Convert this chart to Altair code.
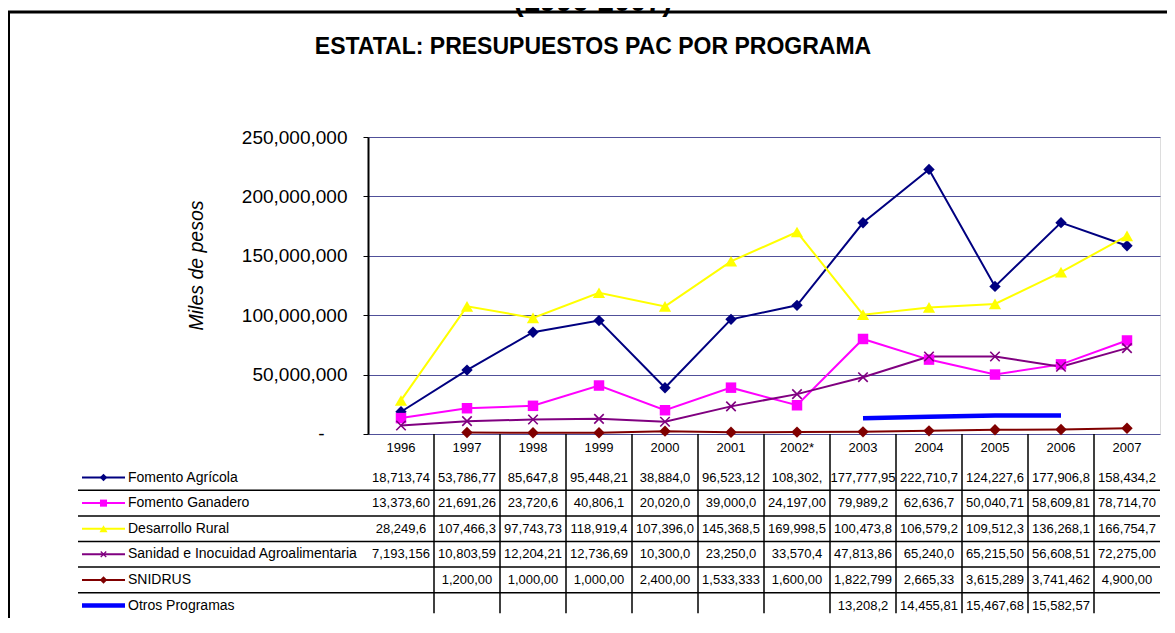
import altair as alt
import pandas as pd

# ---------------- data ----------------
years = ["1996", "1997", "1998", "1999", "2000", "2001", "2002*", "2003",
         "2004", "2005", "2006", "2007"]
series = ["Fomento Agrícola", "Fomento Ganadero", "Desarrollo Rural",
          "Sanidad e Inocuidad Agroalimentaria", "SNIDRUS", "Otros Programas"]
colors = ["#000080", "#FF00FF", "#FFFF00", "#800080", "#800000", "#0000FF"]

fomento_agricola = [18713740, 53786770, 85647800, 95448210, 38884000, 96523120,
                    108302000, 177777950, 222710700, 124227600, 177906800, 158434200]
fomento_ganadero = [13373600, 21691260, 23720600, 40806100, 20020000, 39000000,
                    24197000, 79989200, 62636700, 50040710, 58609810, 78714700]
desarrollo_rural = [28249600, 107466300, 97743730, 118919400, 107396000, 145368500,
                    169998500, 100473800, 106579200, 109512300, 136268100, 166754700]
sanidad = [7193156, 10803590, 12204210, 12736690, 10300000, 23250000,
           33570400, 47813860, 65240000, 65215500, 56608510, 72275000]
snidrus = [None, 1200000, 1000000, 1000000, 2400000, 1533333,
           1600000, 1822799, 2665330, 3615289, 3741462, 4900000]
otros = [None, None, None, None, None, None,
         None, 13208200, 14455810, 15467680, 15582570, None]

# text shown in the data table (as cut off by the cells)
txt_agricola = ["18,713,74", "53,786,77", "85,647,8", "95,448,21", "38,884,0", "96,523,12",
                "108,302,", "177,777,95", "222,710,7", "124,227,6", "177,906,8", "158,434,2"]
txt_ganadero = ["13,373,60", "21,691,26", "23,720,6", "40,806,1", "20,020,0", "39,000,0",
                "24,197,00", "79,989,2", "62,636,7", "50,040,71", "58,609,81", "78,714,70"]
txt_rural = ["28,249,6", "107,466,3", "97,743,73", "118,919,4", "107,396,0", "145,368,5",
             "169,998,5", "100,473,8", "106,579,2", "109,512,3", "136,268,1", "166,754,7"]
txt_sanidad = ["7,193,156", "10,803,59", "12,204,21", "12,736,69", "10,300,0", "23,250,0",
               "33,570,4", "47,813,86", "65,240,0", "65,215,50", "56,608,51", "72,275,00"]
txt_snidrus = ["", "1,200,00", "1,000,00", "1,000,00", "2,400,00", "1,533,333",
               "1,600,00", "1,822,799", "2,665,33", "3,615,289", "3,741,462", "4,900,00"]
txt_otros = ["", "", "", "", "", "", "", "13,208,2", "14,455,81", "15,467,68", "15,582,57", ""]

y_ticks = [0, 50000000, 100000000, 150000000, 200000000, 250000000]
zero_label = "-"

values = [fomento_agricola, fomento_ganadero, desarrollo_rural, sanidad, snidrus, otros]
texts = [txt_agricola, txt_ganadero, txt_rural, txt_sanidad, txt_snidrus, txt_otros]

# ---------------- layout / style constants ----------------
FONT = "Liberation Sans"
COL_PX = 66.0
PLOT_W, PLOT_H = int(12 * COL_PX), 297
ROW_PX = 25.6

KEY_X0 = -286 / COL_PX
KEY_X1 = -243 / COL_PX
KEY_XM = -264.5 / COL_PX
KEY_XT = -240 / COL_PX
ROW_LEFT = -290 / COL_PX
ZERO_X = -46.5 / COL_PX

CROSS = "M-1,-1L1,1M-1,1L1,-1"
# series -> (shape, size in plot, size in key)
markers = {
    "Fomento Agrícola": ("diamond", 130, 55),
    "Fomento Ganadero": ("square", 110, 50),
    "Desarrollo Rural": ("triangle-up", 150, 65),
    "SNIDRUS": ("diamond", 130, 55),
}

# ---------------- tables ----------------
rows = []
for s, vals in zip(series, values):
    for i, v in enumerate(vals):
        if v is not None:
            rows.append({"series": s, "year": years[i], "x": i + 0.5, "value": v})
df = pd.DataFrame(rows)

cells = []
for k, (s, tx) in enumerate(zip(series, texts)):
    for i, t in enumerate(tx):
        if t:
            cells.append({"series": s, "x": i + 0.5, "r": k + 1.7, "txt": t})
df_cells = pd.DataFrame(cells)

df_head = pd.DataFrame({"x": [i + 0.5 for i in range(len(years))],
                        "r": [0.55] * len(years), "txt": years})
df_keys = pd.DataFrame({"series": series, "r": [k + 1.7 for k in range(len(series))],
                        "x1": KEY_X0, "x2": KEY_X1, "xm": KEY_XM, "xt": KEY_XT})
df_hsep = pd.DataFrame({"r": [k + 0.2 for k in range(2, len(series) + 1)],
                        "x1": ROW_LEFT, "x2": 12.0})
df_vsep = pd.DataFrame({"x": list(range(1, len(years))), "r1": 0.0, "r2": 7.0})
df_zero = pd.DataFrame({"x": [ZERO_X], "value": [y_ticks[0]], "txt": [zero_label]})

xscale = alt.Scale(domain=[0, 12], nice=False, zero=False)
tscale = alt.Scale(domain=[0, 7], range=[PLOT_H, PLOT_H + 7 * ROW_PX], nice=False, zero=False)
yscale = alt.Scale(domain=[0, 250000000], nice=False, zero=True)
cscale = alt.Scale(domain=series, range=colors)

yaxis = alt.Axis(
    orient="left", values=y_ticks,
    labelExpr="datum.value == 0 ? '' : format(datum.value, ',')",
    labelFont=FONT, labelFontSize=19, labelColor="black", labelPadding=16,
    tickSize=5, tickColor="black", tickWidth=1,
    domainColor="black", domainWidth=2,
    grid=True, gridColor="#505099", gridWidth=1,
    title="Miles de pesos", titleFont=FONT, titleFontSize=19.5, titleFontStyle="italic",
    titleFontWeight="normal", titleColor="black", titleX=-172, titleY=128,
    titleAngle=270, titleAlign="center", titleBaseline="middle",
)
xaxis = alt.Axis(orient="bottom", labels=False, ticks=False, grid=False, title=None,
                 domain=True, domainColor="black", domainWidth=2)

layers = []

# ---------------- main plot ----------------
layers.append(alt.Chart(df[df["series"] != series[5]]).mark_line(strokeWidth=2).encode(
    x=alt.X("x:Q", scale=xscale, axis=xaxis),
    y=alt.Y("value:Q", scale=yscale, axis=yaxis),
    color=alt.Color("series:N", scale=cscale, legend=None),
))
layers.append(alt.Chart(df[df["series"] == series[5]]).mark_line(
    strokeWidth=4.5, color=colors[5]).encode(
    x=alt.X("x:Q", scale=xscale, axis=None),
    y=alt.Y("value:Q", scale=yscale, axis=None),
))
for s, (shp, sz, _) in markers.items():
    layers.append(alt.Chart(df[df["series"] == s]).mark_point(
        shape=shp, size=sz, filled=True, opacity=1, color=colors[series.index(s)]).encode(
        x=alt.X("x:Q", scale=xscale, axis=None),
        y=alt.Y("value:Q", scale=yscale, axis=None),
    ))
layers.append(alt.Chart(df[df["series"] == series[3]]).mark_point(
    shape=CROSS, filled=False, size=90, strokeWidth=1.6, opacity=1, color=colors[3]).encode(
    x=alt.X("x:Q", scale=xscale, axis=None),
    y=alt.Y("value:Q", scale=yscale, axis=None),
))
# accounting-style zero label of the value axis
layers.append(alt.Chart(df_zero).mark_text(font=FONT, fontSize=19, color="black",
                                           align="center", baseline="middle").encode(
    x=alt.X("x:Q", scale=xscale, axis=None),
    y=alt.Y("value:Q", scale=yscale, axis=None), text="txt:N"))

# ---------------- data table ----------------
tx = dict(font=FONT, fontSize=13, color="black", align="center", baseline="middle")
layers.append(alt.Chart(df_head).mark_text(**tx).encode(
    x=alt.X("x:Q", scale=xscale, axis=None),
    y=alt.Y("r:Q", scale=tscale, axis=None), text="txt:N"))
layers.append(alt.Chart(df_cells).mark_text(**tx).encode(
    x=alt.X("x:Q", scale=xscale, axis=None),
    y=alt.Y("r:Q", scale=tscale, axis=None), text="txt:N"))
layers.append(alt.Chart(df_hsep).mark_rule(color="black", strokeWidth=1.5).encode(
    x=alt.X("x1:Q", scale=xscale, axis=None), x2="x2:Q",
    y=alt.Y("r:Q", scale=tscale, axis=None)))
layers.append(alt.Chart(df_vsep).mark_rule(color="black", strokeWidth=1.5).encode(
    x=alt.X("x:Q", scale=xscale, axis=None),
    y=alt.Y("r1:Q", scale=tscale, axis=None), y2="r2:Q"))
layers.append(alt.Chart(df_keys[df_keys["series"] != series[5]]).mark_rule(strokeWidth=2).encode(
    x=alt.X("x1:Q", scale=xscale, axis=None), x2="x2:Q",
    y=alt.Y("r:Q", scale=tscale, axis=None),
    color=alt.Color("series:N", scale=cscale, legend=None)))
layers.append(alt.Chart(df_keys[df_keys["series"] == series[5]]).mark_rule(
    strokeWidth=4.5, color=colors[5]).encode(
    x=alt.X("x1:Q", scale=xscale, axis=None), x2="x2:Q",
    y=alt.Y("r:Q", scale=tscale, axis=None)))
for s, (shp, _, ksz) in markers.items():
    layers.append(alt.Chart(df_keys[df_keys["series"] == s]).mark_point(
        shape=shp, size=ksz, filled=True, opacity=1, color=colors[series.index(s)]).encode(
        x=alt.X("xm:Q", scale=xscale, axis=None),
        y=alt.Y("r:Q", scale=tscale, axis=None)))
layers.append(alt.Chart(df_keys[df_keys["series"] == series[3]]).mark_point(
    shape=CROSS, filled=False, size=30, strokeWidth=1.3, opacity=1, color=colors[3]).encode(
    x=alt.X("xm:Q", scale=xscale, axis=None),
    y=alt.Y("r:Q", scale=tscale, axis=None)))
layers.append(alt.Chart(df_keys).mark_text(font=FONT, fontSize=14, color="black",
                                           align="left", baseline="middle").encode(
    x=alt.X("xt:Q", scale=xscale, axis=None),
    y=alt.Y("r:Q", scale=tscale, axis=None), text="series:N"))

# ---------------- outer frame ----------------
frame_df = pd.DataFrame({"k": [0]})
layers.append(alt.Chart(frame_df).mark_rule(color="black", strokeWidth=3).encode(
    x=alt.value(-364), x2=alt.value(900), y=alt.value(-125)))
layers.append(alt.Chart(frame_df).mark_rule(color="black", strokeWidth=2).encode(
    x=alt.value(-359), y=alt.value(-126), y2=alt.value(520)))

chart = alt.layer(*layers).resolve_scale(
    y="independent"
).properties(
    width=PLOT_W, height=PLOT_H,
    padding={"left": 360, "top": 129, "right": 7, "bottom": 184},
    autosize=alt.AutoSizeParams(type="none"),
    title=alt.TitleParams(
        text="(1996-2007)",
        subtitle="ESTATAL: PRESUPUESTOS PAC POR PROGRAMA",
        font=FONT, fontSize=29, fontWeight="bold", color="black",
        subtitleFont=FONT, subtitleFontSize=23, subtitleFontWeight="bold",
        subtitleColor="black", subtitlePadding=18.7,
        anchor="middle", frame="group", dx=-171, offset=-49,
    ),
).configure_view(stroke=None).configure(font=FONT, background="white")

chart.save("out.html", embed_options={"renderer": "svg", "actions": False})
